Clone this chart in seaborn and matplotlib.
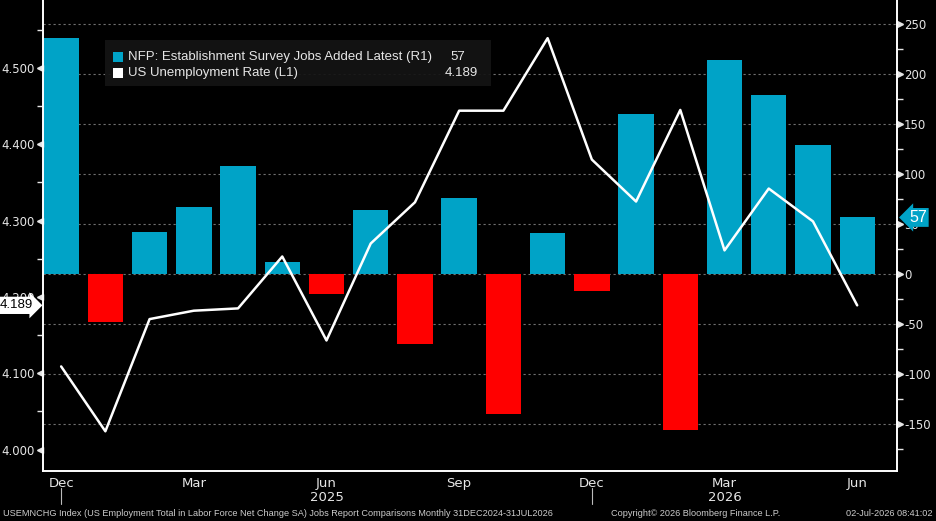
import numpy as np
import pandas as pd
import matplotlib
matplotlib.use('Agg')
import matplotlib.pyplot as plt
import matplotlib.transforms as mtransforms
from matplotlib.patches import Rectangle
from matplotlib.ticker import MultipleLocator
import seaborn as sns

# monthly data, Dec 2024 .. Jun 2026
months = ['Dec', 'Jan', 'Feb', 'Mar', 'Apr', 'May', 'Jun', 'Jul', 'Aug', 'Sep', 'Oct', 'Nov',
          'Dec', 'Jan', 'Feb', 'Mar', 'Apr', 'May', 'Jun']
nfp = [236, -48, 42, 67, 108, 12, -20, 64, -70, 76, -140, 41,
       -17, 160, -156, 214, 179, 129, 57]
unemp = [4.109, 4.024, 4.171, 4.182, 4.185, 4.253, 4.143, 4.270, 4.324, 4.444, 4.444, 4.539,
         4.380, 4.325, 4.445, 4.261, 4.342, 4.299, 4.189]
labeled_months = [0, 3, 6, 9, 12, 15, 18]
year_pos = [6, 15]
year_text = ['2025', '2026']
year_breaks = [0, 12]
left_ticks = [4.0, 4.1, 4.2, 4.3, 4.4, 4.5]
right_ticks = [-150, -100, -50, 0, 50, 100, 150, 200, 250]

BLUE = '#00a3c7'
RED = '#ff0000'
FG = '#e6e6e6'

sns.set_style('dark', {'axes.facecolor': 'black', 'figure.facecolor': 'black'})
plt.rcParams['font.family'] = ['DejaVu Sans']

df = pd.DataFrame({'idx': np.arange(len(nfp)), 'nfp': nfp})
df['sign'] = np.where(df['nfp'] >= 0, 'pos', 'neg')

fig = plt.figure(figsize=(9.37, 5.21), dpi=100)
W, H = 937, 521
ax = fig.add_axes([43 / W, 1 - 471 / H, (897 - 43) / W, 471 / H])
ax.set_facecolor('black')

sns.barplot(data=df, x='idx', y='nfp', hue='sign', palette={'pos': BLUE, 'neg': RED},
            dodge=False, width=0.8, legend=False, saturation=1, ax=ax, zorder=2,
            edgecolor='none', linewidth=0)

ax2 = ax.twinx()
sns.lineplot(x=df['idx'], y=unemp, ax=ax2, color='white', lw=1.8, zorder=3)

ax.set_xlim(-0.41, 18.9)
ax.set_ylim(-196.6, 274.5)
ax2.set_ylim(3.972, 4.589)

# right axis (bars)
ax.yaxis.tick_right()
ax.yaxis.set_label_position('right')
ax.set_yticks(right_ticks)
ax.set_yticklabels([str(v) for v in right_ticks])
ax.yaxis.set_minor_locator(MultipleLocator(25))
ax.tick_params(axis='y', which='major', length=0, pad=5, colors=FG, labelsize=8.5)
ax.tick_params(axis='y', which='minor', right=True, length=4, width=1, color=FG)
ax.set_ylabel('')
ax.grid(False)
for v in right_ticks:
    ax.axhline(v, color='#707070', lw=0.8, ls=(0, (2, 2.5)), zorder=1)

# left axis (line)
ax2.yaxis.tick_left()
ax2.set_yticks(left_ticks)
ax2.set_yticklabels(['%.3f' % v for v in left_ticks])
ax2.yaxis.set_minor_locator(MultipleLocator(0.05))
ax2.tick_params(axis='y', which='major', length=0, pad=6, colors=FG, labelsize=8.5)
ax2.tick_params(axis='y', which='minor', left=True, right=False, length=4, width=1, color=FG)
ax2.set_ylabel('')
ax2.grid(False)

# arrow-style major ticks
tl = mtransforms.blended_transform_factory(ax2.transAxes, ax2.transData)
ax2.plot([-3 / 854] * len(left_ticks), left_ticks, ls='none', marker='<', ms=5,
         color=FG, transform=tl, clip_on=False)
tr = mtransforms.blended_transform_factory(ax.transAxes, ax.transData)
ax.plot([1 + 3 / 854] * len(right_ticks), right_ticks, ls='none', marker='>', ms=5,
        color=FG, transform=tr, clip_on=False)

# x axis
ax.set_xticks(range(len(months)))
ax.set_xticklabels([m if i in labeled_months else '' for i, m in enumerate(months)])
ax.tick_params(axis='x', length=3, width=1.2, color=FG, colors=FG, labelsize=9.5, pad=1.5)
ax.set_xlabel('')
tx = mtransforms.blended_transform_factory(ax.transData, ax.transAxes)
for p, t in zip(year_pos, year_text):
    ax.text(p, -0.043, t, transform=tx, ha='center', va='top', color=FG, fontsize=9.5)
for p in year_breaks:
    ax.plot([p, p], [-0.036, -0.071], transform=tx, color='#bbbbbb', lw=0.8, clip_on=False)

for s in ['left', 'right', 'bottom']:
    ax.spines[s].set_color('white')
    ax.spines[s].set_linewidth(1.2)
    ax2.spines[s].set_color('white')
    ax2.spines[s].set_linewidth(1.2)
ax.spines['top'].set_visible(False)
ax2.spines['top'].set_visible(False)

# last value tags
ax.text(1 + 12 / 854, nfp[-1], str(nfp[-1]), transform=tr, ha='left', va='center',
        color='white', fontsize=11.5, zorder=10, clip_on=False, family='Liberation Sans',
        bbox=dict(boxstyle='larrow,pad=0.12', fc=BLUE, ec='none'))
ax2.text(-10 / 854, unemp[-1], '%.3f' % unemp[-1], transform=tl, ha='right', va='center',
         color='black', fontsize=9.5, zorder=10, clip_on=False, family='Liberation Sans',
         bbox=dict(boxstyle='rarrow,pad=0.2', fc='white', ec='none'))

# legend box
fig.patches.append(Rectangle((105 / W, 1 - 86 / H), 386 / W, 46 / H, transform=fig.transFigure,
                             fc='#141414', ec='none', alpha=0.92, zorder=5))
fig.patches.append(Rectangle((113 / W, 1 - 62 / H), 10 / W, 10 / H, transform=fig.transFigure,
                             fc=BLUE, ec='none', zorder=6))
fig.patches.append(Rectangle((113 / W, 1 - 78 / H), 10 / W, 10 / H, transform=fig.transFigure,
                             fc='white', ec='none', zorder=6))
leg_kw = dict(color=FG, fontsize=9.5, va='center', family='Liberation Sans', zorder=7)
fig.text(128 / W, 1 - 57 / H, 'NFP: Establishment Survey Jobs Added Latest (R1)', ha='left', **leg_kw)
fig.text(450 / W, 1 - 57 / H, str(nfp[-1]), ha='left', **leg_kw)
fig.text(128 / W, 1 - 73 / H, 'US Unemployment Rate (L1)', ha='left', **leg_kw)
fig.text(478 / W, 1 - 73 / H, '%.3f' % unemp[-1], ha='right', **leg_kw)

# footer
foot_kw = dict(color='#cccccc', fontsize=6.6, va='center', family='Liberation Sans')
fig.text(3 / W, 1 - 514 / H, 'USEMNCHG Index (US Employment Total in Labor Force Net Change SA) '
         'Jobs Report Comparisons Monthly 31DEC2024-31JUL2026', ha='left', **foot_kw)
fig.text(611 / W, 1 - 514 / H, 'Copyright\u00a9 2026 Bloomberg Finance L.P.', ha='left', **foot_kw)
fig.text(933 / W, 1 - 514 / H, '02-Jul-2026 08:41:02', ha='right', **foot_kw)

fig.savefig('out.png', dpi=100, facecolor='black')
